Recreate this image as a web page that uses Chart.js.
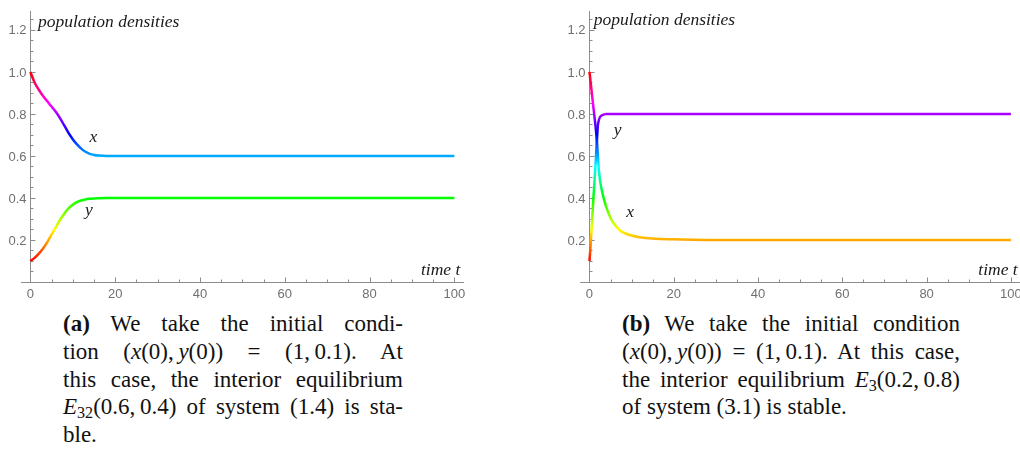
<!DOCTYPE html>
<html>
<head>
<meta charset="utf-8">
<script src="https://cdn.jsdelivr.net/npm/chart.js@4.4.0/dist/chart.umd.min.js"></script>
<style>
  html, body { margin: 0; padding: 0; background: #fff; overflow: hidden; width: 1020px; height: 453px; }
  .plot { position: absolute; top: 0; }
  #plotA { left: 0; }
  #plotB { left: 560px; }
  .cap { position: absolute; top: 310px; font-family: "Liberation Serif", "Times New Roman", serif;
         font-size: 23px; line-height: 27.8px; color: #111; }
  #capA { left: 63px; width: 340px; }
  #capB { left: 622px; width: 338px; }
  .cap div { text-align: justify; text-align-last: justify; }
  .cap div.last { text-align: left; text-align-last: left; }
  .cap sub { font-size: 70%; line-height: 0; vertical-align: -0.25em; }
</style>
</head>
<body>
<canvas id="plotA" class="plot" width="480" height="305"></canvas>
<canvas id="plotB" class="plot" width="480" height="305"></canvas>

<div id="capA" class="cap">
  <div><b>(a)</b> We take the initial condi-</div>
  <div>tion (<i>x</i>(0),&thinsp;<i>y</i>(0)) = (1,&thinsp;0.1). At</div>
  <div>this case, the interior equilibrium</div>
  <div><i>E</i><sub>32</sub>(0.6,&thinsp;0.4) of system (1.4) is sta-</div>
  <div class="last">ble.</div>
</div>
<div id="capB" class="cap">
  <div><b>(b)</b> We take the initial condition</div>
  <div>(<i>x</i>(0),&thinsp;<i>y</i>(0)) = (1,&thinsp;0.1). At this case,</div>
  <div>the interior equilibrium <i>E</i><sub>3</sub>(0.2,&thinsp;0.8)</div>
  <div class="last">of system (3.1) is stable.</div>
</div>

<script>
// (a) system (1.4)
const tA = [0, 1, 2, 3, 4, 5, 6, 7, 8, 9, 10, 11, 12, 13, 14, 15, 16, 18, 20, 25, 30, 40, 50, 60, 70, 80, 90, 100];
const xA = [1.0, 0.95, 0.915, 0.885, 0.86, 0.835, 0.81, 0.78, 0.745, 0.71, 0.68, 0.655, 0.635, 0.62, 0.61, 0.605, 0.602, 0.6, 0.6, 0.6, 0.6, 0.6, 0.6, 0.6, 0.6, 0.6, 0.6, 0.6];
const yA = [0.1, 0.115, 0.135, 0.16, 0.19, 0.225, 0.26, 0.295, 0.325, 0.35, 0.368, 0.38, 0.388, 0.393, 0.396, 0.398, 0.399, 0.4, 0.4, 0.4, 0.4, 0.4, 0.4, 0.4, 0.4, 0.4, 0.4, 0.4];

// (b) system (3.1)
const tB = [0, 0.25, 0.5, 0.75, 1, 1.25, 1.5, 1.75, 2, 2.25, 2.5, 3, 3.5, 4, 5, 6, 7, 8, 10, 12, 15, 20, 25, 30, 40, 50, 60, 70, 80, 90, 100];
const xB = [1.0, 0.955, 0.91, 0.865, 0.82, 0.775, 0.73, 0.675, 0.6, 0.53, 0.485, 0.43, 0.39, 0.355, 0.305, 0.272, 0.25, 0.236, 0.221, 0.213, 0.207, 0.203, 0.201, 0.2, 0.2, 0.2, 0.2, 0.2, 0.2, 0.2, 0.2];
const yB = [0.1, 0.17, 0.25, 0.335, 0.42, 0.5, 0.58, 0.67, 0.745, 0.772, 0.785, 0.794, 0.798, 0.8, 0.8, 0.8, 0.8, 0.8, 0.8, 0.8, 0.8, 0.8, 0.8, 0.8, 0.8, 0.8, 0.8, 0.8, 0.8, 0.8, 0.8];

// axes
const tRange = [-2.2, 102.3];
const valRange = [0, 1.29];
const tLabels = [0, 20, 40, 60, 80, 100];
const valLabels = [0.2, 0.4, 0.6, 0.8, 1.0, 1.2];
const tMinorStep = 5, valMinorStep = 0.05;
const hueRange = [0.1, 1.0];   // colour goes round the hue circle over this span

const AXIS_COLOR = '#8c8c8c';
const TICK_COLOR = '#707070';
const TICK_FONT = '13px "Liberation Sans", Arial, sans-serif';
const NOTE_FONT = 'italic 17.5px "Liberation Serif", "Times New Roman", serif';

function zip(ts, vs) {
    return ts.map((t, i) => ({ x: t, y: vs[i] }));
}

function inList(v, list) {
    return list.some(m => Math.abs(m - v) < 1e-6);
}

// minor ticks on every multiple of the step inside the scale range
function stepTicks(step) {
    return scale => {
        const out = [];
        for (let k = Math.ceil(scale.min / step - 1e-9); k * step <= scale.max + 1e-9; k++) {
            out.push({ value: +(k * step).toFixed(6) });
        }
        scale.ticks = out;
    };
}

function hueStroke(context) {
    const chart = context.chart;
    const { ctx, chartArea, scales } = chart;
    if (!chartArea) return '#f00';
    if (!chart.$hue) {
        const y0 = scales.y.getPixelForValue(hueRange[0]);
        const y1 = scales.y.getPixelForValue(hueRange[1]);
        const g = ctx.createLinearGradient(0, y0, 0, y1);
        for (let i = 0; i <= 24; i++) {
            g.addColorStop(i / 24, `hsl(${i * 15}, 100%, 50%)`);
        }
        chart.$hue = g;
    }
    return chart.$hue;
}

// Mathematica-like axes: crossing at the origin, ticks pointing inwards
const mathAxes = {
    id: 'mathAxes',
    beforeDatasetsDraw(chart) {
        const { ctx, scales: { x, y } } = chart;
        const px0 = Math.round(x.getPixelForValue(0)) + 0.5;
        const py0 = Math.round(y.getPixelForValue(0)) + 0.5;

        ctx.save();
        ctx.strokeStyle = AXIS_COLOR;
        ctx.lineWidth = 1;
        ctx.beginPath();
        ctx.moveTo(x.left, py0);
        ctx.lineTo(x.right, py0);
        ctx.moveTo(px0, y.bottom);
        ctx.lineTo(px0, y.top);
        x.ticks.forEach(t => {
            const p = Math.round(x.getPixelForValue(t.value)) + 0.5;
            ctx.moveTo(p, py0);
            ctx.lineTo(p, py0 - (inList(t.value, tLabels) ? 5 : 3));
        });
        y.ticks.forEach(t => {
            if (t.value < 0.01) return;
            const p = Math.round(y.getPixelForValue(t.value)) + 0.5;
            ctx.moveTo(px0, p);
            ctx.lineTo(px0 + (inList(t.value, valLabels) ? 5 : 3), p);
        });
        ctx.stroke();

        // tick labels
        ctx.fillStyle = TICK_COLOR;
        ctx.font = TICK_FONT;
        ctx.textAlign = 'center';
        ctx.textBaseline = 'middle';
        tLabels.forEach(v => ctx.fillText(String(v), x.getPixelForValue(v), py0 + 12));
        ctx.textAlign = 'right';
        valLabels.forEach(v => ctx.fillText(v.toFixed(1), px0 - 4, y.getPixelForValue(v) + 1));
        ctx.restore();
    },
    afterDatasetsDraw(chart, args, opts) {
        const { ctx, scales: { x, y } } = chart;
        ctx.save();
        ctx.font = NOTE_FONT;
        ctx.fillStyle = '#1a1a1a';
        (opts.notes || []).forEach(n => {
            ctx.textAlign = n.align || 'left';
            ctx.textBaseline = n.baseline || 'alphabetic';
            ctx.fillText(n.text, x.getPixelForValue(n.x), y.getPixelForValue(n.y));
        });
        ctx.restore();
    }
};

function makePlot(id, ts, xs, ys, geo, notes) {
    const line = (vals) => ({
        data: zip(ts, vals),
        borderColor: hueStroke,
        borderWidth: 2.5,
        pointRadius: 0,
        fill: false,
        cubicInterpolationMode: 'monotone'
    });
    return new Chart(document.getElementById(id), {
        type: 'line',
        data: { datasets: [line(xs), line(ys)] },
        options: {
            responsive: false,
            animation: false,
            events: [],
            layout: { padding: { top: 11, right: geo.padRight, bottom: 0, left: 0 } },
            plugins: {
                legend: { display: false },
                tooltip: { enabled: false },
                mathAxes: { notes }
            },
            scales: {
                x: {
                    type: 'linear',
                    min: tRange[0], max: tRange[1],
                    bounds: 'data',
                    grid: { display: false, drawTicks: false },
                    border: { display: false },
                    ticks: { display: false, autoSkip: false },
                    afterBuildTicks: stepTicks(tMinorStep),
                    afterFit: s => { s.height = 305 - 282; }
                },
                y: {
                    type: 'linear',
                    min: valRange[0], max: valRange[1],
                    bounds: 'data',
                    grid: { display: false, drawTicks: false },
                    border: { display: false },
                    ticks: { display: false, autoSkip: false },
                    afterBuildTicks: stepTicks(valMinorStep),
                    afterFit: s => { s.width = geo.axisWidth; }
                }
            }
        },
        plugins: [mathAxes]
    });
}

makePlot('plotA', tA, xA, yA, { axisWidth: 21, padRight: 15.9 }, [
    { text: 'population densities', x: 1.8, y: 1.212 },
    { text: 'time t', x: 101.4, y: 0.033, align: 'right' },
    { text: 'x', x: 14.9, y: 0.69, align: 'center', baseline: 'middle' },
    { text: 'y', x: 13.8, y: 0.34, align: 'center', baseline: 'middle' }
]);

makePlot('plotB', tB, xB, yB, { axisWidth: 20.2, padRight: 19.4 }, [
    { text: 'population densities', x: 1.0, y: 1.222 },
    { text: 'time t', x: 101.6, y: 0.033, align: 'right' },
    { text: 'y', x: 6.7, y: 0.72, align: 'center', baseline: 'middle' },
    { text: 'x', x: 9.65, y: 0.33, align: 'center', baseline: 'middle' }
]);
</script>
</body>
</html>
